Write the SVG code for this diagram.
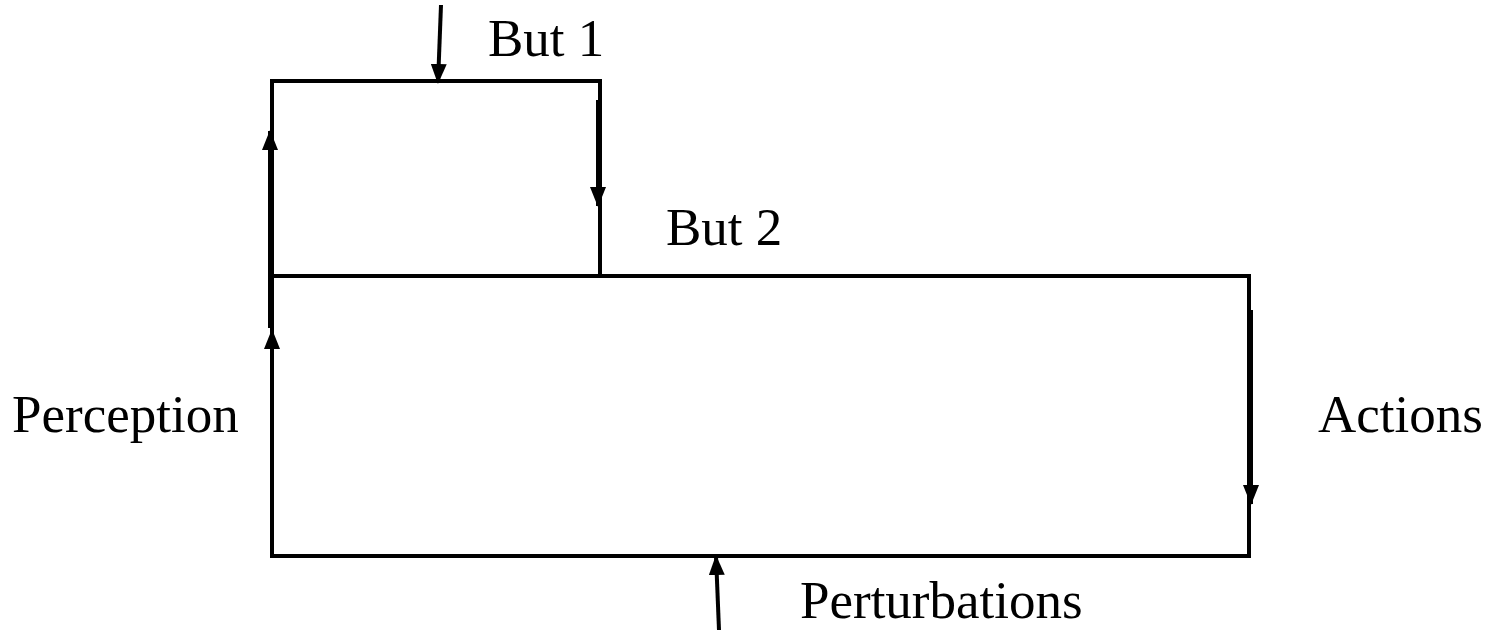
<svg xmlns="http://www.w3.org/2000/svg" width="1486" height="630" viewBox="0 0 1486 630">
<style>
.ln{stroke:#000;stroke-width:4;fill:none}
.ar{stroke:#000;stroke-width:4;fill:none;marker-end:url(#ah)}
.t{font-family:"Liberation Serif",serif;font-size:53px;fill:#000}
</style>
<defs>
<marker id="ah" viewBox="0 0 20 16" refX="19" refY="8" markerWidth="5" markerHeight="4" orient="auto" markerUnits="strokeWidth">
<path d="M0,0 L20,8 L0,16 Z" fill="#000"/>
</marker>
</defs>
<rect width="1486" height="630" fill="#fff"/>
<g id="boucle1">
<path class="ln" d="M272,276 V81 H600 V276"/>
</g>
<g id="boucle2">
<path class="ln" d="M272,276 H1249 V556 H272 Z"/>
</g>
<g id="connectors">
<line class="ar" x1="441" y1="5" x2="438" y2="83"/>
<line class="ar" x1="270" y1="328" x2="270" y2="131"/>
<line class="ar" x1="598" y1="100" x2="598" y2="206"/>
<line class="ar" x1="272" y1="556" x2="272" y2="330"/>
<line class="ar" x1="1251" y1="310" x2="1251" y2="504"/>
<line class="ar" x1="719" y1="630" x2="716" y2="556"/>
</g>
<g id="labels">
<text class="t" x="488" y="56">But 1</text>
<text class="t" x="666" y="245">But 2</text>
<text class="t" x="12" y="432">Perception</text>
<text class="t" x="1318" y="432">Actions</text>
<text class="t" x="800" y="618">Perturbations</text>
</g>
</svg>
